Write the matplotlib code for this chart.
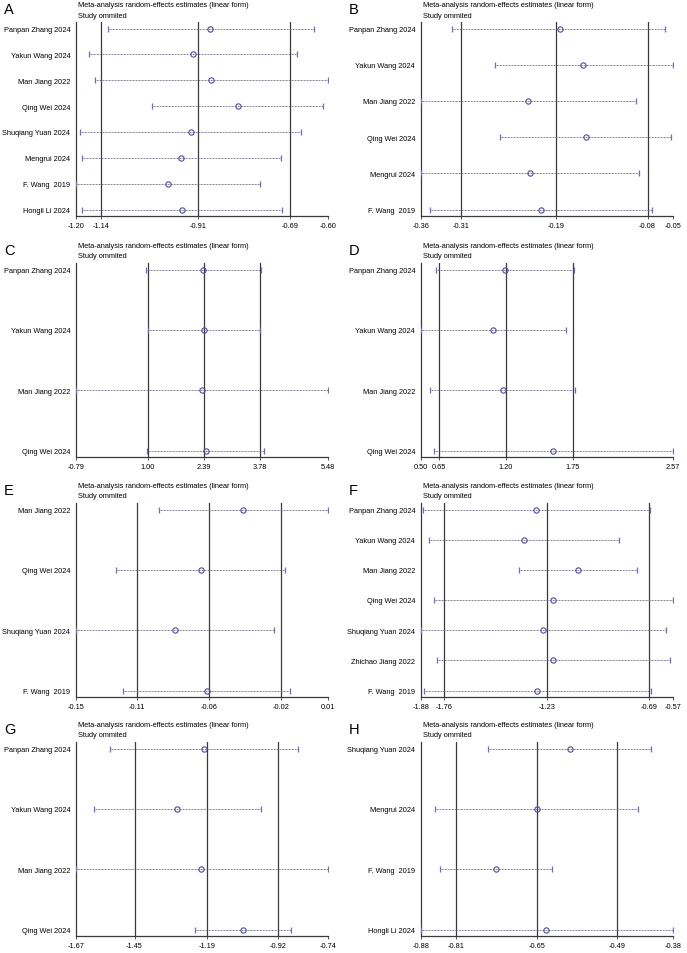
import matplotlib
matplotlib.use('Agg')
import matplotlib.pyplot as plt

plt.rcParams['font.family'] = ['Liberation Sans', 'DejaVu Sans']

# ---- data (study omitted: estimate, lower, upper) ----
a_studies = ['Panpan Zhang 2024', 'Yakun Wang 2024', 'Man Jiang 2022', 'Qing Wei 2024',
             'Shuqiang Yuan 2024', 'Mengrui 2024', 'F. Wang  2019', 'Hongli Li 2024']
a_est = [-0.880, -0.922, -0.878, -0.815, -0.927, -0.950, -0.981, -0.948]
a_lo = [-1.125, -1.169, -1.154, -1.018, -1.190, -1.186, -1.200, -1.186]
a_hi = [-0.634, -0.675, -0.601, -0.611, -0.664, -0.713, -0.763, -0.710]
a_ref = [-1.14, -0.91, -0.69]
a_lim = [-1.20, -0.60]

b_studies = ['Panpan Zhang 2024', 'Yakun Wang 2024', 'Man Jiang 2022', 'Qing Wei 2024',
             'Mengrui 2024', 'F. Wang  2019']
b_est = [-0.189, -0.160, -0.228, -0.157, -0.225, -0.212]
b_lo = [-0.321, -0.269, -0.360, -0.263, -0.360, -0.349]
b_hi = [-0.059, -0.050, -0.095, -0.052, -0.091, -0.075]
b_ref = [-0.31, -0.194, -0.081]
b_lim = [-0.36, -0.05]

c_studies = ['Panpan Zhang 2024', 'Yakun Wang 2024', 'Man Jiang 2022', 'Qing Wei 2024']
c_est = [2.38, 2.40, 2.34, 2.44]
c_lo = [0.95, 1.01, -0.79, 0.975]
c_hi = [3.81, 3.78, 5.48, 3.90]
c_ref = [1.00, 2.39, 3.78]
c_lim = [-0.79, 5.48]

d_studies = ['Panpan Zhang 2024', 'Yakun Wang 2024', 'Man Jiang 2022', 'Qing Wei 2024']
d_est = [1.193, 1.094, 1.174, 1.590]
d_lo = [0.629, 0.500, 0.579, 0.612]
d_hi = [1.757, 1.691, 1.768, 2.570]
d_ref = [0.65, 1.20, 1.75]
d_lim = [0.50, 2.57]

e_studies = ['Man Jiang 2022', 'Qing Wei 2024', 'Shuqiang Yuan 2024', 'F. Wang  2019']
e_est = [-0.0407, -0.0684, -0.0856, -0.0644]
e_lo = [-0.0960, -0.1237, -0.1501, -0.1191]
e_hi = [0.0149, -0.0132, -0.0206, -0.0097]
e_ref = [-0.1104, -0.0631, -0.0156]
e_lim = [-0.1501, 0.0149]

f_studies = ['Panpan Zhang 2024', 'Yakun Wang 2024', 'Man Jiang 2022', 'Qing Wei 2024',
             'Shuqiang Yuan 2024', 'Zhichao Jiang 2022', 'F. Wang  2019']
f_est = [-1.279, -1.345, -1.062, -1.192, -1.244, -1.190, -1.273]
f_lo = [-1.870, -1.835, -1.369, -1.812, -1.880, -1.797, -1.863]
f_hi = [-0.688, -0.851, -0.757, -0.570, -0.604, -0.582, -0.682]
f_ref = [-1.76, -1.225, -0.694]
f_lim = [-1.88, -0.57]

g_studies = ['Panpan Zhang 2024', 'Yakun Wang 2024', 'Man Jiang 2022', 'Qing Wei 2024']
g_est = [-1.198, -1.298, -1.208, -1.053]
g_lo = [-1.545, -1.605, -1.670, -1.231]
g_hi = [-0.851, -0.989, -0.740, -0.876]
g_ref = [-1.454, -1.187, -0.924]
g_lim = [-1.67, -0.74]

h_studies = ['Shuqiang Yuan 2024', 'Mengrui 2024', 'F. Wang  2019', 'Hongli Li 2024']
h_est = [-0.584, -0.650, -0.731, -0.631]
h_lo = [-0.746, -0.852, -0.841, -0.880]
h_hi = [-0.423, -0.448, -0.620, -0.380]
h_ref = [-0.81, -0.65, -0.49]
h_lim = [-0.88, -0.38]

panels = [
    ('A', a_studies, a_est, a_lo, a_hi, a_ref, a_lim),
    ('B', b_studies, b_est, b_lo, b_hi, b_ref, b_lim),
    ('C', c_studies, c_est, c_lo, c_hi, c_ref, c_lim),
    ('D', d_studies, d_est, d_lo, d_hi, d_ref, d_lim),
    ('E', e_studies, e_est, e_lo, e_hi, e_ref, e_lim),
    ('F', f_studies, f_est, f_lo, f_hi, f_ref, f_lim),
    ('G', g_studies, g_est, g_lo, g_hi, g_ref, g_lim),
    ('H', h_studies, h_est, h_lo, h_hi, h_ref, h_lim),
]

W, H = 687, 954
fig = plt.figure(figsize=(W / 100, H / 100), dpi=100)

col_left = [76, 420.7]
row_top = [23, 264, 504, 743]
ax_w, ax_h = 252, 194
pad_px = 6.5
fs = 5.3
line_col = '#3a3a3a'
mark_col = '#4b4ba6'
cap_col = '#6a6ad0'

for i, (letter, studies, est, lo, hi, ref, lim) in enumerate(panels):
    left = col_left[i % 2]
    top = row_top[i // 2]
    ax = fig.add_axes([left / W, 1 - (top + ax_h) / H, ax_w / W, ax_h / H])

    n = len(studies)
    ys = list(range(1, n + 1))
    spacing = (ax_h - 2 * pad_px) / (n - 1)
    m = pad_px / spacing

    for v in ref:
        ax.axvline(v, color=line_col, lw=0.9, zorder=1)

    for y, e, l, u in zip(ys, est, lo, hi):
        ax.plot([l, u], [y, y], color='#555566', lw=0.6, ls=(0, (1, 0.8)), zorder=2)
        ax.plot([l, u], [y, y], ls='none', marker='|', ms=4.3, mew=0.9,
                color=cap_col, zorder=3)
        ax.plot([e], [y], ls='none', marker='o', ms=3.8, mew=0.8,
                mfc='none', mec=mark_col, zorder=4)

    ax.set_xlim(lim)
    ax.set_ylim(n + m, 1 - m)
    ax.set_yticks(ys)
    ax.set_yticklabels(studies, fontsize=fs)
    ticks = [lim[0]] + list(ref) + [lim[1]]
    ax.set_xticks(ticks)
    ax.set_xticklabels(['%.2f' % t for t in ticks], fontsize=fs)
    ax.tick_params(axis='y', length=0, pad=4)
    ax.tick_params(axis='x', length=2, width=0.6, pad=2.5, color=line_col)
    for s in ['top', 'right']:
        ax.spines[s].set_visible(False)
    for s in ['left', 'bottom']:
        ax.spines[s].set_color(line_col)
        ax.spines[s].set_linewidth(0.9)

    fig.text((left + 2) / W, 1 - (top - 17.5) / H,
             'Meta-analysis random-effects estimates (linear form)',
             fontsize=fs, va='center', ha='left')
    fig.text((left + 2) / W, 1 - (top - 7) / H, 'Study ommited',
             fontsize=fs, va='center', ha='left')
    fig.text((left - 72) / W, 1 - (top - 13) / H, letter,
             fontsize=10.5, va='center', ha='left')

fig.savefig('out.png', dpi=100)
